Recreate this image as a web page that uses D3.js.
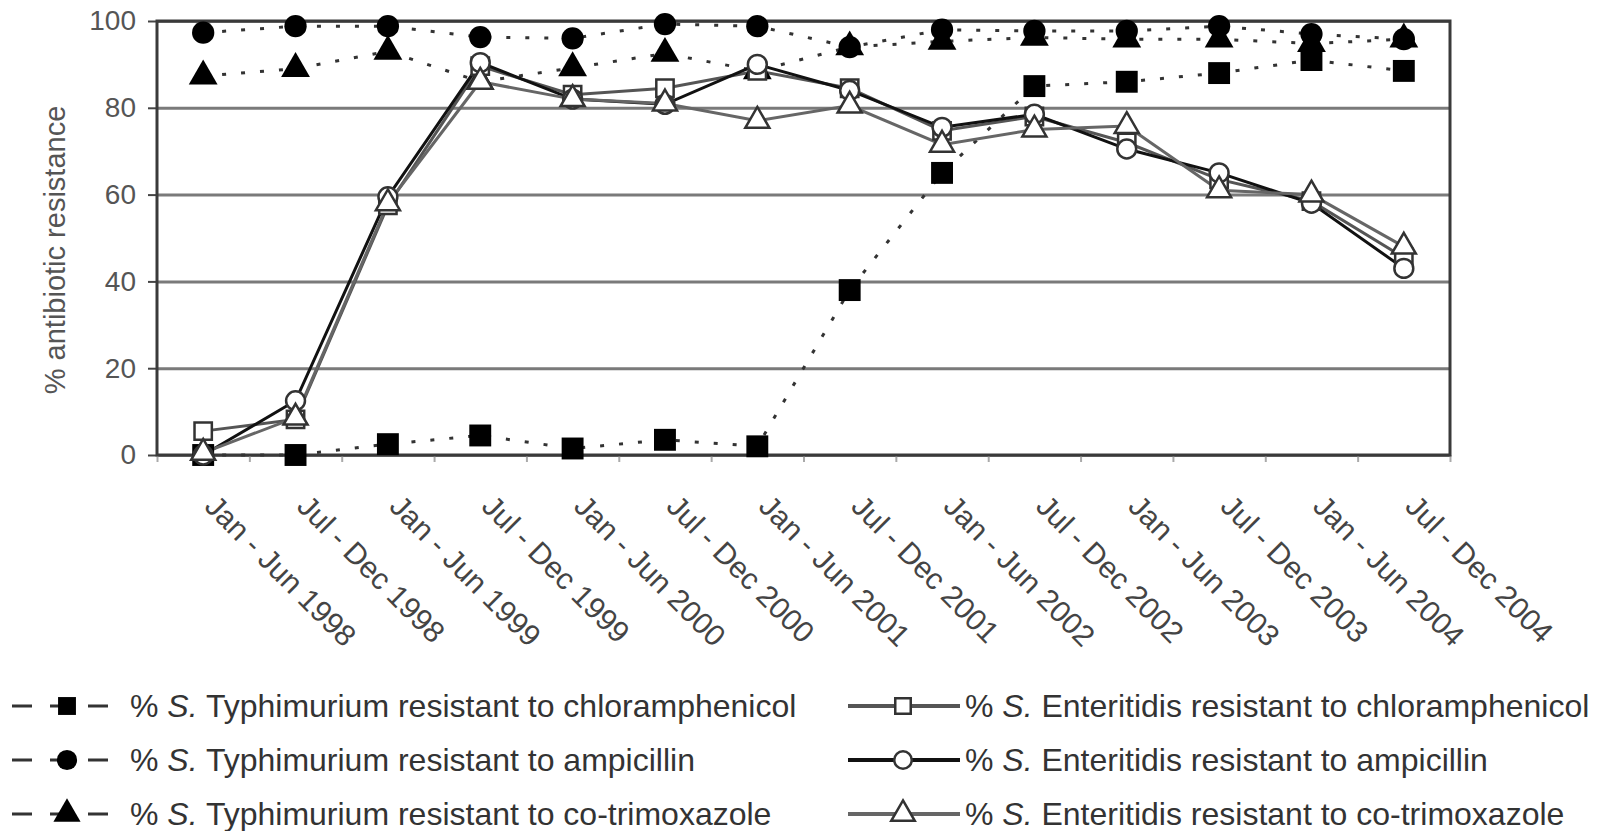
<!DOCTYPE html>
<html>
<head>
<meta charset="utf-8">
<script src="https://cdn.jsdelivr.net/npm/d3@7"></script>
<style>
  body { margin: 0; background: #fff; }
  text { font-family: "Liberation Sans", Arial, sans-serif; }
</style>
</head>
<body>
<div id="chart"></div>
<script>
// half-year periods on the x axis
var periods = ["Jan - Jun 1998", "Jul - Dec 1998", "Jan - Jun 1999", "Jul - Dec 1999",
  "Jan - Jun 2000", "Jul - Dec 2000", "Jan - Jun 2001", "Jul - Dec 2001",
  "Jan - Jun 2002", "Jul - Dec 2002", "Jan - Jun 2003", "Jul - Dec 2003",
  "Jan - Jun 2004", "Jul - Dec 2004"];

var yTicks = [0, 20, 40, 60, 80, 100];

// S. Typhimurium (dotted, filled markers)
var typhChloram = [0, 0, 2.5, 4.5, 1.5, 3.5, 2, 38, 65, 85, 86, 88, 91, 88.5];
var typhAmp = [97.3, 98.8, 98.8, 96.3, 96, 99.3, 98.8, 94, 98, 97.7, 97.7, 98.8, 97, 95.8];
var typhCotrim = [87.3, 89, 93, 86, 89.2, 92.5, 88.5, 94, 95.3, 96.2, 95.8, 95.8, 94.8, 95.8];

// S. Enteritidis (solid, open markers)
var entChloram = [5.5, 8.2, 57.5, 89.6, 83, 84.5, 88.5, 84.5, 74.7, 78, 72, 63.5, 58.5, 45.5];
var entAmp = [0, 12.5, 59.5, 90.4, 82, 80.8, 90, 84, 75.5, 78.5, 70.5, 65, 58, 43];
var entCotrim = [0.5, 8.6, 58, 86, 82, 81, 77, 80.5, 71.5, 75, 75.8, 61, 60, 48];

var drugs = ["chloramphenicol", "ampicillin", "co-trimoxazole"];

var margin = { top: 21, right: 148, bottom: 376, left: 157 };
var W = 1598, H = 831;
var w = W - margin.left - margin.right;
var h = H - margin.top - margin.bottom;

var svg = d3.select("#chart").append("svg")
    .attr("width", W)
    .attr("height", H);

var g = svg.append("g")
    .attr("transform", "translate(" + margin.left + "," + margin.top + ")");

var x = d3.scaleBand().domain(periods).range([0, w]).padding(0);
var y = d3.scaleLinear().domain([0, 100]).range([h, 0]);
var xb = d3.scaleLinear().domain([0, periods.length]).range([0, w]); // band edges for ticks

// gridlines
g.append("g")
    .attr("class", "grid")
    .call(d3.axisLeft(y).tickValues(yTicks).tickSize(-w).tickFormat(""))
    .call(s => s.select(".domain").remove())
    .selectAll("line")
    .attr("stroke", "#7a7a7a")
    .attr("stroke-width", 3);

// y axis ticks + labels
g.append("g")
    .call(d3.axisLeft(y).tickValues(yTicks).tickSizeInner(9).tickSizeOuter(0).tickPadding(12))
    .call(s => s.select(".domain").remove())
    .call(s => s.selectAll("line").attr("stroke", "#444").attr("stroke-width", 2))
    .call(s => s.selectAll("text")
        .attr("font-size", 28)
        .attr("fill", "#555")
        .attr("font-family", "'Liberation Sans', Arial, sans-serif"));

// x axis ticks at band edges
g.append("g")
    .attr("transform", "translate(0," + h + ")")
    .call(d3.axisBottom(xb).ticks(periods.length).tickSize(7).tickFormat(""))
    .call(s => s.select(".domain").remove())
    .call(s => s.selectAll("line").attr("stroke", "#aaa").attr("stroke-width", 2));

// frame
g.append("rect")
    .attr("width", w)
    .attr("height", h)
    .attr("fill", "none")
    .attr("stroke", "#3a3a3a")
    .attr("stroke-width", 3);

// rotated x labels
g.selectAll(".xlab")
    .data(periods)
    .enter()
    .append("text")
    .attr("class", "xlab")
    .attr("transform", d => "translate(" + (x(d) + x.bandwidth() / 2) + "," + (h + 53) + ") rotate(45)")
    .attr("font-size", 30)
    .attr("fill", "#444")
    .text(d => d);

// y label
svg.append("text")
    .attr("transform", "translate(65," + (margin.top + h / 2 + 12) + ") rotate(-90)")
    .attr("text-anchor", "middle")
    .attr("font-size", 29)
    .attr("fill", "#555")
    .text("% antibiotic resistance");

var series = [
  { vals: typhChloram, sym: d3.symbolSquare, size: 480, filled: true, line: "#333" },
  { vals: typhAmp, sym: d3.symbolCircle, size: 390, filled: true, line: "#333" },
  { vals: typhCotrim, sym: d3.symbolTriangle, size: 360, filled: true, line: "#333" },
  { vals: entChloram, sym: d3.symbolSquare, size: 300, filled: false, line: "#555" },
  { vals: entAmp, sym: d3.symbolCircle, size: 280, filled: false, line: "#111" },
  { vals: entCotrim, sym: d3.symbolTriangle, size: 250, filled: false, line: "#666" }
];

var line = d3.line()
    .x((d, i) => x(periods[i]) + x.bandwidth() / 2)
    .y(d => y(d));

series.forEach(function (s) {
    g.append("path")
        .datum(s.vals)
        .attr("d", line)
        .attr("fill", "none")
        .attr("stroke", s.line)
        .attr("stroke-width", 3)
        .attr("stroke-dasharray", s.filled ? "4,15" : null);
});

series.forEach(function (s) {
    g.selectAll(null)
        .data(s.vals)
        .enter()
        .append("path")
        .attr("transform", (d, i) => "translate(" + (x(periods[i]) + x.bandwidth() / 2) + "," + y(d) + ")")
        .attr("d", d3.symbol().type(s.sym).size(s.size))
        .attr("fill", s.filled ? "#000" : "#fff")
        .attr("stroke", s.filled ? "none" : "#333")
        .attr("stroke-width", 2.5);
});

// legend
var legY = [717, 771, 825];
var leg = svg.append("g");

series.forEach(function (s, i) {
    var col = s.filled ? 0 : 1;
    var row = i % 3;
    var yy = legY[row] - 11;
    var x0 = col === 0 ? 12 : 848;
    var x1 = col === 0 ? 118 : 960;
    var mx = col === 0 ? 67 : 903;
    leg.append("line")
        .attr("x1", x0).attr("x2", x1)
        .attr("y1", yy).attr("y2", yy)
        .attr("stroke", col === 0 ? "#333" : s.line)
        .attr("stroke-width", col === 0 ? 3 : 4)
        .attr("stroke-dasharray", col === 0 ? "20,18" : null);
    leg.append("path")
        .attr("transform", "translate(" + mx + "," + yy + ")")
        .attr("d", d3.symbol().type(s.sym).size(s.filled ? 320 : 240))
        .attr("fill", s.filled ? "#000" : "#fff")
        .attr("stroke", s.filled ? "none" : "#333")
        .attr("stroke-width", 2.5);
    var t = leg.append("text")
        .attr("x", col === 0 ? 130 : 965)
        .attr("y", legY[row])
        .attr("font-size", 32)
        .attr("fill", "#333");
    t.append("tspan").text("% ");
    t.append("tspan").attr("font-style", "italic").text("S.");
    t.append("tspan").text((col === 0 ? " Typhimurium" : " Enteritidis") + " resistant to " + drugs[row]);
});
</script>
</body>
</html>
